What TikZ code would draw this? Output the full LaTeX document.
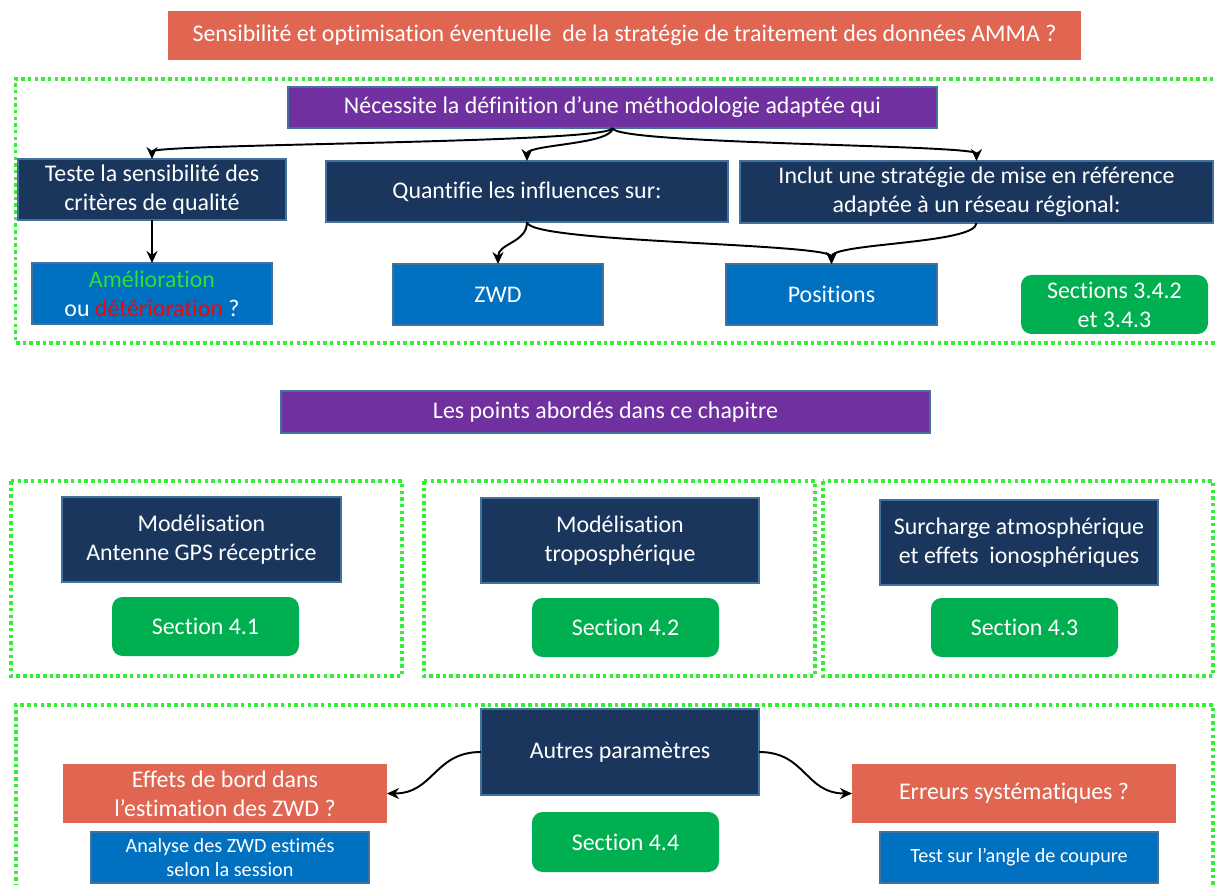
\documentclass[tikz,border=0pt]{standalone}
\usepackage{fontspec}
\setmainfont{Carlito}[Ligatures=NoCommon]
\usetikzlibrary{arrows.meta, positioning, calc}

\definecolor{rouille}{HTML}{E06651}
\definecolor{marine}{HTML}{1B365D}
\definecolor{bord}{HTML}{41719C}
\definecolor{violet}{HTML}{7030A0}
\definecolor{bleu}{HTML}{0070C0}
\definecolor{vert}{HTML}{00B050}
\definecolor{pointille}{HTML}{33EE33}
\definecolor{vertclair}{HTML}{33DD33}

\begin{document}
\begin{tikzpicture}[>={Stealth[length=2.4mm,width=2.2mm]},
  boite/.style={draw=bord, line width=1.2pt, text=white, align=center,
    inner sep=0pt, outer sep=0pt, font=\fontsize{13.6}{16.5}\selectfont},
  petit/.style={font=\fontsize{11.5}{14}\selectfont},
  marineboite/.style={boite, fill=marine},
  violetboite/.style={boite, fill=violet},
  bleuboite/.style={boite, fill=bleu},
  rouilleboite/.style={boite, draw=none, fill=rouille},
  sectbox/.style={boite, draw=none, fill=vert, rounded corners=6pt,
    minimum width=3.74cm, minimum height=1.18cm},
  cadre/.style={draw=pointille, line width=2pt, dash pattern=on 2pt off 1.8pt},
  fleche/.style={->, line width=1.1pt}]
\useasboundingbox (0,0) rectangle (24.3,-17.7);
% question de depart
\node[rouilleboite, minimum width=18.26cm, minimum height=0.98cm] (titre) at (12.49,-0.71)
  {Sensibilité et optimisation éventuelle \ de la stratégie de traitement des données AMMA ?};
% methodologie
\draw[cadre] (24.4,-1.58) -| (0.31,-6.86) -- (24.4,-6.86);
\node[violetboite, minimum width=12.98cm, minimum height=0.82cm] (meth) at (12.25,-2.15)
  {Nécessite la définition d’une méthodologie adaptée qui};
\node[marineboite, minimum width=5.36cm, minimum height=1.22cm] (teste) at (3.04,-3.79)
  {Teste la sensibilité des\\critères de qualité};
\node[marineboite, minimum width=8.04cm, minimum height=1.22cm] (quant) at (10.54,-3.83)
  {Quantifie les influences sur:};
\node[marineboite, minimum width=9.46cm, minimum height=1.24cm] (inclut) at (19.53,-3.84)
  {Inclut une stratégie de mise en référence\\adaptée à un réseau régional:};
\node[bleuboite, minimum width=4.8cm, minimum height=1.22cm] (amelio) at (3.04,-5.87)
  {\textcolor{vertclair}{Amélioration}\\ou \textcolor{red}{détérioration} ?};
\node[bleuboite, minimum width=4.2cm, minimum height=1.22cm] (zwd) at (9.96,-5.89) {ZWD};
\node[bleuboite, minimum width=4.22cm, minimum height=1.22cm] (positions) at (16.63,-5.89) {Positions};
\node[sectbox] (sec34) at (22.29,-6.09) {Sections 3.4.2\\et 3.4.3};
\draw[fleche] (meth.south) .. controls +(0,-0.31) and +(0,0.31) .. (teste.north);
\draw[fleche] (meth.south) .. controls +(0,-0.33) and +(0,0.33) .. (quant.north);
\draw[fleche] (meth.south) .. controls +(0,-0.33) and +(0,0.33) .. (inclut.north);
\draw[fleche] (teste.south) -- (amelio.north);
\draw[fleche] (quant.south) .. controls +(0,-0.42) and +(0,0.42) .. (zwd.north);
\draw[fleche] (quant.south) .. controls +(0,-0.42) and +(0,0.42) .. (positions.north);
\draw[fleche] (inclut.south) .. controls +(0,-0.42) and +(0,0.42) .. (positions.north);
% points du chapitre
\node[violetboite, minimum width=12.98cm, minimum height=0.84cm] (points) at (12.11,-8.24)
  {Les points abordés dans ce chapitre};
\draw[cadre] (0.22,-9.62) rectangle (8.04,-13.52);
\draw[cadre] (8.48,-9.62) rectangle (16.3,-13.52);
\draw[cadre] (16.46,-9.62) rectangle (24.26,-13.52);
\node[marineboite, minimum width=5.58cm, minimum height=1.7cm] (antenne) at (4.03,-10.79)
  {Modélisation\\Antenne GPS réceptrice};
\node[marineboite, minimum width=5.56cm, minimum height=1.7cm] (tropo) at (12.4,-10.81)
  {Modélisation\\troposphérique};
\node[marineboite, minimum width=5.56cm, minimum height=1.7cm] (surcharge) at (20.38,-10.85)
  {Surcharge atmosphérique\\et effets \ ionosphériques};
\node[sectbox] (sec41) at (4.11,-12.53) {Section 4.1};
\node[sectbox] (sec42) at (12.51,-12.55) {Section 4.2};
\node[sectbox] (sec43) at (20.49,-12.55) {Section 4.3};
% autres parametres
\draw[cadre] (0.32,-17.75) |- (24.26,-14.1) -- (24.26,-17.75);
\node[marineboite, minimum width=5.56cm, minimum height=1.72cm] (autres) at (12.4,-15.04)
  {Autres paramètres};
\node[sectbox, minimum height=1.2cm] (sec44) at (12.51,-16.84) {Section 4.4};
\node[rouilleboite, minimum width=6.48cm, minimum height=1.18cm] (effets) at (4.5,-15.87)
  {Effets de bord dans\\l’estimation des ZWD ?};
\node[rouilleboite, minimum width=6.48cm, minimum height=1.18cm] (erreurs) at (20.28,-15.87)
  {Erreurs systématiques ?};
\node[bleuboite, petit, minimum width=5.56cm, minimum height=1.02cm] (analyse) at (4.6,-17.15)
  {Analyse des ZWD estimés\\selon la session};
\node[bleuboite, petit, minimum width=5.56cm, minimum height=1.02cm] (test) at (20.38,-17.15)
  {Test sur l’angle de coupure};
\draw[fleche] (autres.west) .. controls +(-0.94,0) and +(0.94,0) .. (effets.east);
\draw[fleche] (autres.east) .. controls +(0.94,0) and +(-0.94,0) .. (erreurs.west);
\end{tikzpicture}
\end{document}
